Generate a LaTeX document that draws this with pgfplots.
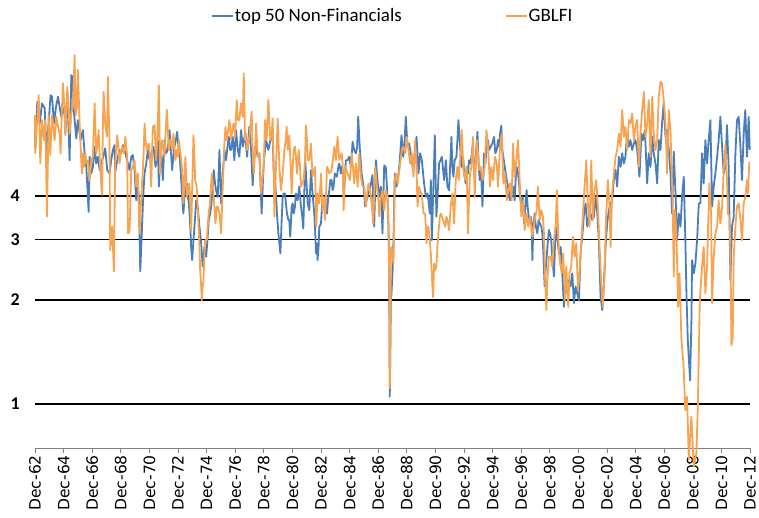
\documentclass[border=0pt]{standalone}
\usepackage{fontspec}
\setmainfont{Carlito}
\newfontfamily\dejavu{DejaVu Sans}
\usepackage{pgfplots}
\pgfplotsset{compat=1.18}
\definecolor{bl}{RGB}{74,126,187}
\definecolor{or}{RGB}{248,163,80}
\begin{document}
\begin{tikzpicture}
\begin{axis}[
  at={(0bp,0bp)}, anchor=south west,
  scale only axis, width=715bp, height=416.7bp,
  xmin=0, xmax=50, ymode=log, ymin=0.746, ymax=12,
  clip=false,
  axis x line*=bottom, axis y line*=left,
  y axis line style={draw=none},
  x axis line style={draw=gray, line width=0.8bp},
  xtick={0,2,...,50},
  xticklabels={Dec-62,Dec-64,Dec-66,Dec-68,Dec-70,Dec-72,Dec-74,Dec-76,Dec-78,Dec-80,Dec-82,Dec-84,Dec-86,Dec-88,Dec-90,Dec-92,Dec-94,Dec-96,Dec-98,Dec-00,Dec-02,Dec-04,Dec-06,Dec-08,Dec-10,Dec-12},
  xtick style={draw=gray, line width=0.8bp},
  tick align=outside, major tick length=5bp,
  xticklabel style={rotate=90, anchor=east, font=\dejavu\fontsize{15.6}{16}\selectfont, inner sep=0pt, xshift=-2bp},
  ytick={1,2,3,4}, yticklabels={1,2,3,4},
  ytick style={draw=none},
  yminorticks=false,
  ymajorgrids, grid style={black, line width=1.2bp},
  yticklabel style={font=\bfseries\fontsize{18}{18}\selectfont, inner sep=0pt, anchor=east, xshift=-10bp},
  legend style={draw=none, fill=none, at={(0.246,1.0367)}, anchor=west, legend columns=2,
    font=\fontsize{19}{19}\selectfont, inner sep=0pt,
    /tikz/every even column/.append style={column sep=102bp},
    nodes={inner xsep=1bp, inner ysep=0pt}},
  legend image code/.code={\draw[#1] (0bp,0bp) -- (21bp,0bp);},
]
\addplot[bl, line width=1.8bp, line join=round] table[row sep=\\] {
x y\\
0.00 6.35\\ 0.02 5.50\\ 0.16 7.50\\ 0.33 6.49\\ 0.49 7.42\\ 0.68 7.18\\ 0.79 5.44\\ 0.95 6.49\\ 1.09 7.84\\ 1.19 7.76\\
1.33 6.49\\ 1.47 7.26\\ 1.61 7.76\\ 1.72 7.26\\ 1.84 6.79\\ 1.96 7.02\\ 2.07 7.26\\ 2.12 6.07\\ 2.26 7.93\\ 2.42 5.08\\
2.54 8.96\\ 2.63 8.86\\ 2.72 7.02\\ 2.89 5.87\\ 3.00 6.64\\ 3.19 5.81\\ 3.35 6.21\\ 3.47 5.32\\ 3.59 4.86\\ 3.75 3.60\\
3.82 5.20\\ 3.93 4.65\\ 4.05 4.86\\ 4.17 5.56\\ 4.28 4.97\\ 4.40 5.20\\ 4.52 4.76\\ 4.63 4.97\\ 4.77 5.20\\ 4.91 5.50\\
5.05 4.76\\ 5.21 4.65\\ 5.33 5.08\\ 5.45 5.44\\ 5.56 5.62\\ 5.61 4.70\\ 5.75 5.08\\ 5.91 5.44\\ 6.03 5.32\\ 6.15 5.62\\
6.26 5.44\\ 6.38 5.20\\ 6.50 4.97\\ 6.61 4.76\\ 6.73 5.20\\ 6.84 5.26\\ 6.96 4.76\\ 7.08 3.89\\ 7.19 4.35\\ 7.26 3.98\\
7.36 2.42\\ 7.43 2.85\\ 7.50 3.41\\ 7.59 4.16\\ 7.66 4.65\\ 7.78 4.97\\ 7.89 5.44\\ 8.01 5.08\\ 8.12 5.32\\ 8.29 5.56\\
8.43 4.86\\ 8.52 5.20\\ 8.59 5.81\\ 8.66 4.26\\ 8.75 5.08\\ 8.82 5.44\\ 8.94 4.45\\ 9.06 5.81\\ 9.17 5.32\\ 9.29 5.44\\
9.41 6.21\\ 9.50 5.44\\ 9.59 4.76\\ 9.68 5.20\\ 9.75 5.56\\ 9.85 5.81\\ 9.94 6.14\\ 10.03 5.56\\ 10.10 5.32\\ 10.20 4.65\\
10.29 3.98\\ 10.38 3.56\\ 10.45 3.98\\ 10.52 4.16\\ 10.62 4.35\\ 10.69 3.98\\ 10.76 3.81\\ 10.85 3.33\\ 10.92 2.85\\ 10.99 2.61\\
11.08 2.98\\ 11.15 3.26\\ 11.27 3.89\\ 11.38 3.73\\ 11.50 3.26\\ 11.62 2.92\\ 11.73 2.50\\ 11.85 2.85\\ 11.97 2.67\\ 12.06 2.98\\
12.15 3.41\\ 12.25 3.56\\ 12.32 3.73\\ 12.41 4.16\\ 12.50 4.76\\ 12.59 4.35\\ 12.66 4.16\\ 12.78 3.98\\ 12.90 5.44\\ 13.01 3.81\\
13.13 4.65\\ 13.25 5.44\\ 13.36 5.08\\ 13.46 5.56\\ 13.55 5.94\\ 13.64 5.44\\ 13.71 5.44\\ 13.83 5.94\\ 13.94 5.08\\ 14.06 6.21\\
14.18 5.44\\ 14.29 5.20\\ 14.41 6.21\\ 14.53 5.56\\ 14.69 6.07\\ 14.83 5.20\\ 14.99 6.35\\ 15.11 5.44\\ 15.22 4.30\\ 15.39 5.56\\
15.48 5.44\\ 15.57 5.20\\ 15.69 5.32\\ 15.85 3.56\\ 15.99 4.97\\ 16.16 5.81\\ 16.32 5.44\\ 16.46 5.81\\ 16.62 5.94\\ 16.69 4.76\\
16.78 4.45\\ 16.85 4.07\\ 16.92 3.56\\ 17.02 3.12\\ 17.09 2.92\\ 17.16 2.73\\ 17.25 3.41\\ 17.32 3.98\\ 17.39 4.07\\ 17.48 4.07\\
17.55 3.81\\ 17.62 3.56\\ 17.72 3.41\\ 17.78 3.41\\ 17.85 3.05\\ 17.95 3.73\\ 18.02 3.81\\ 18.09 3.56\\ 18.18 3.73\\ 18.25 4.07\\
18.37 3.89\\ 18.48 4.26\\ 18.60 3.73\\ 18.69 3.49\\ 18.76 3.22\\ 18.83 4.07\\ 18.90 5.08\\ 19.00 4.26\\ 19.07 3.81\\ 19.18 3.64\\
19.30 4.76\\ 19.41 4.07\\ 19.53 3.56\\ 19.60 3.12\\ 19.65 2.73\\ 19.72 2.92\\ 19.76 2.61\\ 19.83 2.85\\ 19.88 3.26\\ 20.00 3.33\\
20.11 3.98\\ 20.18 3.73\\ 20.28 3.89\\ 20.42 3.56\\ 20.51 3.98\\ 20.58 4.16\\ 20.65 4.45\\ 20.74 4.45\\ 20.81 4.16\\ 20.88 4.26\\
20.97 4.65\\ 21.11 4.55\\ 21.21 4.86\\ 21.28 4.97\\ 21.39 4.65\\ 21.44 4.86\\ 21.51 4.76\\ 21.62 4.16\\ 21.74 5.08\\ 21.86 5.08\\
21.97 5.20\\ 22.09 4.86\\ 22.21 5.75\\ 22.32 5.44\\ 22.44 5.32\\ 22.53 5.56\\ 22.60 6.79\\ 22.72 5.44\\ 22.84 4.65\\ 22.98 4.26\\
23.09 3.73\\ 23.18 3.89\\ 23.32 4.07\\ 23.49 4.35\\ 23.60 4.60\\ 23.72 3.26\\ 23.84 5.08\\ 23.95 4.45\\ 24.07 3.98\\ 24.19 4.26\\
24.30 3.12\\ 24.42 4.91\\ 24.53 4.86\\ 24.65 3.98\\ 24.72 3.26\\ 24.77 2.39\\ 24.81 1.05\\ 24.88 1.91\\ 25.00 2.39\\ 25.07 2.98\\
25.16 4.65\\ 25.28 4.26\\ 25.37 4.45\\ 25.47 4.86\\ 25.56 5.44\\ 25.63 6.00\\ 25.75 5.20\\ 25.84 5.68\\ 25.93 6.79\\ 26.05 5.56\\
26.16 5.68\\ 26.28 5.32\\ 26.40 4.86\\ 26.51 5.08\\ 26.68 5.94\\ 26.82 4.65\\ 26.93 5.32\\ 27.05 5.08\\ 27.21 4.35\\ 27.33 3.98\\
27.44 4.07\\ 27.51 3.89\\ 27.61 3.56\\ 27.68 4.45\\ 27.75 2.98\\ 27.84 3.98\\ 27.96 6.00\\ 28.07 3.49\\ 28.17 4.16\\ 28.26 4.97\\
28.45 5.20\\ 28.61 4.45\\ 28.73 5.08\\ 28.84 4.26\\ 28.96 4.16\\ 29.03 4.86\\ 29.12 5.94\\ 29.19 4.86\\ 29.26 4.55\\ 29.35 5.08\\
29.47 5.20\\ 29.54 5.81\\ 29.61 6.64\\ 29.73 5.56\\ 29.84 4.86\\ 29.94 5.20\\ 30.01 4.65\\ 30.12 4.35\\ 30.19 4.86\\ 30.28 4.65\\
30.35 5.08\\ 30.42 4.97\\ 30.52 5.20\\ 30.59 5.56\\ 30.70 4.86\\ 30.82 5.20\\ 30.94 6.14\\ 31.03 4.86\\ 31.10 4.45\\ 31.19 4.76\\
31.29 3.73\\ 31.36 4.65\\ 31.40 5.32\\ 31.50 4.97\\ 31.59 5.68\\ 31.68 5.81\\ 31.75 5.44\\ 31.87 5.56\\ 31.98 5.68\\ 32.10 5.94\\
32.19 5.32\\ 32.29 5.44\\ 32.38 5.81\\ 32.45 5.56\\ 32.52 6.07\\ 32.61 6.40\\ 32.68 5.44\\ 32.75 5.20\\ 32.85 4.86\\ 32.92 4.65\\
32.99 4.45\\ 33.08 4.26\\ 33.15 3.98\\ 33.22 3.89\\ 33.31 4.35\\ 33.38 4.07\\ 33.45 4.26\\ 33.54 3.89\\ 33.61 4.45\\ 33.68 4.86\\
33.78 4.65\\ 33.85 4.35\\ 33.92 3.98\\ 34.01 3.73\\ 34.10 3.98\\ 34.20 3.33\\ 34.29 3.73\\ 34.38 4.16\\ 34.45 3.73\\ 34.55 3.41\\
34.66 3.49\\ 34.73 3.33\\ 34.78 2.61\\ 34.85 3.26\\ 34.94 3.56\\ 35.03 3.26\\ 35.13 3.12\\ 35.22 3.41\\ 35.31 3.33\\ 35.41 3.26\\
35.48 3.12\\ 35.55 2.73\\ 35.64 2.19\\ 35.71 2.44\\ 35.78 2.67\\ 35.87 2.98\\ 35.94 3.19\\ 36.01 3.12\\ 36.10 2.98\\ 36.17 2.67\\
36.29 2.34\\ 36.36 2.85\\ 36.41 3.26\\ 36.52 3.05\\ 36.64 2.73\\ 36.76 2.85\\ 36.87 2.39\\ 36.99 1.91\\ 37.10 2.39\\ 37.22 2.09\\
37.34 2.28\\ 37.45 2.19\\ 37.57 2.39\\ 37.69 1.96\\ 37.80 2.19\\ 37.92 2.09\\ 38.04 2.00\\ 38.15 2.73\\ 38.27 3.05\\ 38.39 3.56\\
38.50 3.81\\ 38.62 3.26\\ 38.73 3.49\\ 38.85 3.56\\ 38.97 3.41\\ 39.08 3.49\\ 39.20 3.98\\ 39.32 3.56\\ 39.43 2.98\\ 39.55 2.04\\
39.67 1.87\\ 39.78 2.23\\ 39.90 2.85\\ 40.01 3.33\\ 40.13 3.64\\ 40.25 3.81\\ 40.36 3.89\\ 40.48 4.45\\ 40.60 4.76\\ 40.71 4.26\\
40.83 5.20\\ 40.95 4.86\\ 41.06 5.32\\ 41.18 4.97\\ 41.29 5.20\\ 41.41 6.07\\ 41.53 5.56\\ 41.64 5.81\\ 41.76 5.44\\ 41.88 5.68\\
41.99 5.81\\ 42.11 5.44\\ 42.27 4.55\\ 42.41 6.07\\ 42.51 5.81\\ 42.65 6.21\\ 42.81 4.35\\ 42.92 5.32\\ 43.04 4.86\\ 43.16 5.94\\
43.27 5.32\\ 43.39 4.97\\ 43.51 4.35\\ 43.62 5.81\\ 43.74 5.44\\ 43.85 6.49\\ 43.97 7.50\\ 44.09 5.94\\ 44.20 6.21\\ 44.32 5.44\\
44.44 4.65\\ 44.55 3.56\\ 44.67 5.38\\ 44.79 4.07\\ 44.90 2.98\\ 45.02 3.56\\ 45.14 3.26\\ 45.25 3.98\\ 45.37 4.55\\ 45.48 2.98\\
45.55 2.14\\ 45.65 1.53\\ 45.81 1.17\\ 45.90 1.71\\ 45.95 2.61\\ 46.07 2.39\\ 46.18 2.55\\ 46.30 2.98\\ 46.42 3.81\\ 46.53 3.81\\
46.65 5.32\\ 46.76 4.35\\ 46.88 5.81\\ 47.00 4.97\\ 47.11 5.81\\ 47.23 6.64\\ 47.35 3.73\\ 47.46 4.26\\ 47.58 4.65\\ 47.70 5.20\\
47.81 5.81\\ 47.93 6.79\\ 48.05 5.56\\ 48.16 4.65\\ 48.28 4.86\\ 48.39 6.42\\ 48.51 4.86\\ 48.63 2.28\\ 48.74 3.26\\ 48.86 3.49\\
48.98 5.32\\ 49.09 6.64\\ 49.21 6.79\\ 49.33 5.56\\ 49.44 4.45\\ 49.56 6.07\\ 49.67 7.10\\ 49.79 5.20\\ 49.91 6.79\\ 49.98 5.44\\
};
\addlegendentry{top 50 Non-Financials}
\addplot[or, line width=1.8bp, line join=round] table[row sep=\\] {
x y\\
0.00 6.86\\ 0.02 5.32\\ 0.14 6.49\\ 0.26 7.84\\ 0.37 4.97\\ 0.49 6.64\\ 0.63 5.81\\ 0.72 6.64\\ 0.84 3.49\\ 0.95 6.86\\
1.07 5.26\\ 1.19 6.86\\ 1.28 6.35\\ 1.37 5.81\\ 1.49 6.79\\ 1.61 6.35\\ 1.72 6.07\\ 1.79 5.32\\ 1.89 7.26\\ 1.96 8.48\\
2.05 7.26\\ 2.12 6.00\\ 2.26 8.29\\ 2.35 7.26\\ 2.42 6.07\\ 2.54 6.94\\ 2.65 7.26\\ 2.77 10.24\\ 2.84 6.86\\ 2.93 7.26\\
3.00 9.27\\ 3.12 6.49\\ 3.19 5.56\\ 3.28 4.65\\ 3.35 5.32\\ 3.42 4.86\\ 3.52 5.32\\ 3.59 4.97\\ 3.70 5.08\\ 3.82 4.45\\
3.93 5.08\\ 4.05 5.20\\ 4.17 7.42\\ 4.28 5.32\\ 4.35 5.56\\ 4.45 6.21\\ 4.56 4.81\\ 4.68 4.03\\ 4.75 6.49\\ 4.80 8.01\\
4.91 6.49\\ 5.03 5.94\\ 5.10 8.86\\ 5.17 6.64\\ 5.21 5.81\\ 5.26 2.79\\ 5.38 3.26\\ 5.45 2.85\\ 5.52 2.42\\ 5.56 3.56\\
5.61 4.97\\ 5.75 6.00\\ 5.84 5.56\\ 5.91 4.97\\ 6.03 5.44\\ 6.10 5.56\\ 6.22 5.32\\ 6.31 5.94\\ 6.45 5.20\\ 6.50 3.12\\
6.61 3.16\\ 6.73 4.76\\ 6.84 4.86\\ 6.96 5.08\\ 7.08 4.26\\ 7.19 4.65\\ 7.31 3.12\\ 7.40 3.73\\ 7.50 4.45\\ 7.59 5.20\\
7.66 6.49\\ 7.73 5.81\\ 7.82 5.44\\ 7.96 5.68\\ 8.05 5.08\\ 8.12 4.26\\ 8.24 6.35\\ 8.36 6.42\\ 8.47 5.08\\ 8.57 6.07\\
8.66 8.38\\ 8.75 4.65\\ 8.82 5.44\\ 8.89 5.81\\ 8.99 5.44\\ 9.06 5.20\\ 9.13 6.07\\ 9.22 7.10\\ 9.29 6.21\\ 9.36 5.44\\
9.45 5.81\\ 9.52 5.81\\ 9.59 5.44\\ 9.68 6.07\\ 9.75 5.56\\ 9.82 5.08\\ 9.92 5.44\\ 9.99 5.20\\ 10.06 5.81\\ 10.15 5.44\\
10.22 5.08\\ 10.29 4.76\\ 10.38 3.81\\ 10.45 4.45\\ 10.52 5.20\\ 10.62 3.98\\ 10.71 4.26\\ 10.80 4.35\\ 10.87 3.73\\ 10.92 3.19\\
10.99 4.16\\ 11.08 6.00\\ 11.15 5.20\\ 11.20 4.45\\ 11.31 4.26\\ 11.43 3.33\\ 11.50 2.85\\ 11.55 2.44\\ 11.62 2.19\\ 11.66 2.00\\
11.73 2.19\\ 11.78 2.28\\ 11.85 2.73\\ 11.90 2.98\\ 12.01 2.98\\ 12.13 3.49\\ 12.25 3.89\\ 12.36 4.65\\ 12.43 4.35\\ 12.50 3.98\\
12.62 3.33\\ 12.71 3.73\\ 12.78 3.73\\ 12.90 3.56\\ 13.01 3.12\\ 13.13 4.26\\ 13.22 5.44\\ 13.32 6.35\\ 13.41 5.81\\ 13.48 6.07\\
13.60 6.64\\ 13.71 5.81\\ 13.83 6.35\\ 13.90 6.49\\ 13.99 5.94\\ 14.11 7.59\\ 14.18 6.64\\ 14.29 6.64\\ 14.41 7.42\\ 14.53 6.79\\
14.60 9.06\\ 14.69 5.81\\ 14.76 6.07\\ 14.83 5.44\\ 14.99 5.94\\ 15.15 7.02\\ 15.22 5.44\\ 15.29 4.65\\ 15.39 5.44\\ 15.46 6.49\\
15.57 5.20\\ 15.69 5.32\\ 15.81 4.07\\ 15.90 4.45\\ 15.99 4.86\\ 16.09 6.64\\ 16.20 5.81\\ 16.32 7.59\\ 16.39 6.49\\ 16.46 5.81\\
16.55 6.07\\ 16.62 6.71\\ 16.69 4.65\\ 16.74 3.49\\ 16.81 4.26\\ 16.85 4.86\\ 16.97 6.71\\ 17.09 4.86\\ 17.20 4.16\\ 17.32 4.65\\
17.44 5.44\\ 17.53 5.81\\ 17.60 6.35\\ 17.67 5.44\\ 17.78 6.00\\ 17.85 5.20\\ 17.95 4.07\\ 18.02 4.86\\ 18.09 5.44\\ 18.18 5.56\\
18.25 5.20\\ 18.32 4.65\\ 18.44 5.44\\ 18.53 4.86\\ 18.60 4.26\\ 18.69 4.35\\ 18.79 4.45\\ 18.88 5.08\\ 18.95 6.40\\ 19.02 5.81\\
19.07 5.08\\ 19.18 5.08\\ 19.30 5.68\\ 19.41 4.55\\ 19.48 4.65\\ 19.58 4.86\\ 19.67 3.26\\ 19.76 4.07\\ 19.88 3.81\\ 20.00 4.65\\
20.11 3.64\\ 20.18 3.98\\ 20.28 3.41\\ 20.35 3.98\\ 20.42 4.86\\ 20.51 4.76\\ 20.58 4.65\\ 20.74 4.76\\ 20.83 5.08\\ 20.93 5.56\\
21.04 5.08\\ 21.16 5.94\\ 21.28 5.08\\ 21.44 5.32\\ 21.51 4.97\\ 21.58 3.64\\ 21.69 4.86\\ 21.86 4.65\\ 22.02 4.45\\ 22.16 5.32\\
22.25 4.76\\ 22.32 4.35\\ 22.44 4.97\\ 22.56 4.26\\ 22.67 5.32\\ 22.79 4.55\\ 22.91 4.26\\ 23.02 4.26\\ 23.14 3.73\\ 23.23 4.07\\
23.32 4.35\\ 23.42 4.16\\ 23.49 3.98\\ 23.56 3.73\\ 23.65 3.33\\ 23.79 4.86\\ 23.91 4.26\\ 24.00 3.98\\ 24.07 3.49\\ 24.19 3.98\\
24.30 4.16\\ 24.42 3.64\\ 24.53 4.16\\ 24.65 3.98\\ 24.72 3.26\\ 24.79 2.14\\ 24.81 1.11\\ 24.86 1.53\\ 24.88 2.85\\ 24.95 2.73\\
25.00 2.73\\ 25.07 2.55\\ 25.16 4.45\\ 25.23 4.65\\ 25.35 4.35\\ 25.51 4.86\\ 25.65 5.44\\ 25.75 5.56\\ 25.89 5.32\\ 26.00 5.94\\
26.12 5.44\\ 26.23 4.97\\ 26.35 5.32\\ 26.47 4.55\\ 26.58 5.81\\ 26.68 4.86\\ 26.75 3.73\\ 26.86 4.26\\ 26.98 4.07\\ 27.05 4.07\\
27.17 3.56\\ 27.28 3.56\\ 27.38 2.92\\ 27.44 3.26\\ 27.51 3.26\\ 27.61 2.98\\ 27.68 2.73\\ 27.79 2.19\\ 27.84 2.04\\ 27.91 2.55\\
27.98 2.44\\ 28.07 2.50\\ 28.14 2.85\\ 28.21 3.12\\ 28.31 3.49\\ 28.38 3.56\\ 28.54 3.41\\ 28.68 3.26\\ 28.77 3.49\\ 28.84 3.41\\
28.96 3.19\\ 29.07 3.73\\ 29.19 4.07\\ 29.31 3.33\\ 29.42 4.45\\ 29.54 4.86\\ 29.63 4.45\\ 29.73 5.08\\ 29.84 6.21\\ 29.96 4.76\\
30.08 4.45\\ 30.19 4.86\\ 30.28 3.12\\ 30.35 3.89\\ 30.42 4.65\\ 30.52 4.86\\ 30.63 5.94\\ 30.75 3.98\\ 30.89 5.81\\ 30.98 5.32\\
31.05 4.76\\ 31.17 4.86\\ 31.29 4.45\\ 31.45 4.86\\ 31.57 6.21\\ 31.68 5.56\\ 31.82 4.26\\ 31.91 4.86\\ 32.03 4.45\\ 32.17 5.20\\
32.29 4.97\\ 32.38 4.26\\ 32.52 5.56\\ 32.64 6.07\\ 32.75 4.35\\ 32.87 4.65\\ 32.99 3.89\\ 33.10 4.16\\ 33.22 4.35\\ 33.33 3.89\\
33.43 5.68\\ 33.54 4.55\\ 33.66 5.08\\ 33.78 5.81\\ 33.89 4.45\\ 34.01 3.49\\ 34.15 3.89\\ 34.24 3.19\\ 34.38 3.56\\ 34.50 3.26\\
34.61 3.49\\ 34.78 3.05\\ 34.94 3.41\\ 35.08 3.64\\ 35.17 4.26\\ 35.29 3.41\\ 35.41 3.64\\ 35.52 3.49\\ 35.59 3.12\\ 35.66 2.39\\
35.76 1.87\\ 35.83 2.28\\ 35.94 2.67\\ 36.06 2.67\\ 36.17 2.50\\ 36.29 2.98\\ 36.41 3.26\\ 36.50 4.16\\ 36.59 3.05\\ 36.69 2.61\\
36.83 2.39\\ 36.94 2.73\\ 37.06 2.00\\ 37.15 2.50\\ 37.29 1.91\\ 37.38 2.39\\ 37.50 2.50\\ 37.62 3.05\\ 37.73 2.67\\ 37.85 2.92\\
37.97 2.14\\ 38.08 2.39\\ 38.20 2.92\\ 38.32 3.56\\ 38.43 4.26\\ 38.55 5.08\\ 38.66 3.81\\ 38.78 3.26\\ 38.90 5.08\\ 39.01 3.41\\
39.13 4.16\\ 39.25 4.45\\ 39.36 3.73\\ 39.48 2.85\\ 39.60 2.23\\ 39.71 1.91\\ 39.83 2.39\\ 39.94 3.49\\ 40.06 4.45\\ 40.18 3.73\\
40.25 2.85\\ 40.36 4.07\\ 40.48 4.65\\ 40.60 5.20\\ 40.71 5.44\\ 40.83 6.07\\ 40.95 5.56\\ 41.06 7.10\\ 41.18 5.94\\ 41.29 6.35\\
41.41 5.44\\ 41.53 6.64\\ 41.64 6.49\\ 41.76 6.94\\ 41.88 5.81\\ 41.99 6.35\\ 42.11 6.64\\ 42.23 4.86\\ 42.34 6.07\\ 42.46 7.10\\
42.58 8.01\\ 42.69 5.94\\ 42.81 6.49\\ 42.92 7.59\\ 43.04 5.20\\ 43.16 7.76\\ 43.27 6.07\\ 43.39 5.44\\ 43.51 5.81\\ 43.62 7.76\\
43.74 8.57\\ 43.85 8.48\\ 43.97 7.59\\ 44.09 6.49\\ 44.20 4.65\\ 44.32 7.10\\ 44.44 6.21\\ 44.51 4.86\\ 44.60 3.73\\ 44.67 2.34\\
44.74 3.64\\ 44.83 3.26\\ 44.90 2.61\\ 44.97 1.91\\ 45.07 2.39\\ 45.14 1.91\\ 45.20 1.55\\ 45.35 1.30\\ 45.48 0.96\\ 45.60 1.05\\
45.72 0.69\\ 45.90 0.92\\ 46.07 0.66\\ 46.25 0.72\\ 46.35 0.98\\ 46.49 2.00\\ 46.65 2.50\\ 46.76 2.85\\ 46.88 2.09\\ 47.00 2.50\\
47.07 3.26\\ 47.16 4.35\\ 47.28 3.56\\ 47.35 1.96\\ 47.46 2.67\\ 47.58 3.12\\ 47.70 3.26\\ 47.81 3.89\\ 47.93 3.33\\ 48.05 3.73\\
48.16 4.76\\ 48.28 5.62\\ 48.39 4.45\\ 48.46 3.56\\ 48.58 3.49\\ 48.65 2.39\\ 48.70 1.48\\ 48.79 1.55\\ 48.86 2.67\\ 48.98 3.26\\
49.09 3.73\\ 49.21 3.81\\ 49.33 3.41\\ 49.44 2.98\\ 49.56 3.81\\ 49.67 3.98\\ 49.79 4.45\\ 49.86 4.07\\ 49.95 5.02\\
};
\addlegendentry{GBLFI}
\end{axis}
\pgfresetboundingbox
\path[use as bounding box] (-35bp,-70bp) rectangle (724bp,448bp);
\end{tikzpicture}
\end{document}
